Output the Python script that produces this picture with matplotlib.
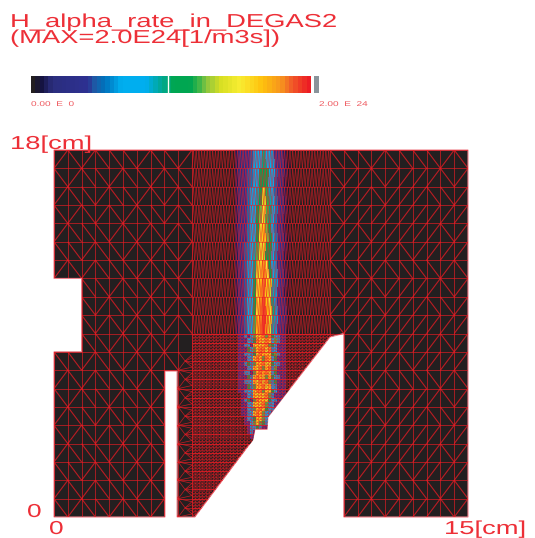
import matplotlib
matplotlib.use("Agg")
import matplotlib.pyplot as plt
import numpy as np
from matplotlib.collections import LineCollection
from matplotlib.colors import LinearSegmentedColormap
from matplotlib.patches import Polygon
from matplotlib.patheffects import AbstractPathEffect
from matplotlib.transforms import Affine2D

W, H = 535, 538
RED = "#ed2f37"

# domain outline, cm
outline_x = [0, 15, 15, 10.5, 10.5, 10.0, 7.75, 7.72, 7.28, 7.2, 5.1, 4.46, 4.46, 4.02, 4.02, 0, 0, 1, 1, 0]
outline_y = [18, 18, 0, 0, 9.0, 8.83, 4.9, 4.3, 4.3, 3.78, 0, 0, 7.16, 7.16, 0, 0, 8.1, 8.1, 11.7, 11.7]

# colour scale
bar_pos = [0, .03, .07, .2, .225, .26, .32, .41, .46, .51, .57, .6, .63, .68, .75, .83, .9, .94, 1]
bar_col = ["#231f20", "#14123f", "#2b2e7e", "#2e3192", "#1c5ea8", "#0072bc", "#00aeef", "#00aeef", "#00a99d",
           "#00a651", "#00a651", "#39b54a", "#8dc63f", "#d7df23", "#f9ed32", "#ffc20e", "#f7941e", "#f15a29", "#ed1c24"]

# upper channel rate, percent of max, rows from top
upper_rate = [
    [5, 8, 12, 15, 18, 22, 32, 40, 42, 48, 42, 40, 30, 20, 15, 10, 6, 3],
    [5, 8, 12, 18, 22, 28, 38, 42, 50, 55, 50, 42, 34, 22, 15, 10, 6, 3],
    [5, 8, 14, 18, 25, 32, 40, 45, 55, 68, 58, 45, 38, 25, 15, 10, 6, 3],
    [5, 10, 14, 20, 25, 35, 42, 50, 62, 72, 60, 48, 40, 28, 18, 10, 6, 3],
    [6, 10, 15, 20, 28, 35, 42, 55, 72, 80, 62, 50, 42, 28, 18, 10, 6, 3],
    [6, 10, 15, 22, 28, 38, 45, 60, 72, 70, 55, 52, 40, 28, 18, 12, 6, 3],
    [6, 10, 15, 22, 30, 38, 48, 68, 78, 88, 74, 55, 42, 30, 18, 12, 6, 3],
    [6, 12, 16, 22, 30, 40, 52, 72, 82, 92, 80, 68, 45, 30, 20, 12, 6, 3],
    [6, 12, 16, 24, 32, 40, 55, 75, 88, 95, 82, 72, 48, 30, 20, 12, 7, 3],
    [6, 12, 18, 24, 32, 42, 60, 82, 90, 96, 88, 70, 45, 30, 20, 12, 7, 3],
]

# lower fine region, tenths of max, rows from top
lower_rate = [
    "012324678969543210", "012243598798463210", "021342787896542110", "012254689979342210",
    "011343579887563210", "021244798698452110", "012353688977543210", "011244879689362110",
    "012342689897452110", "021253798768543110", "012344879796352110", "011253688978431110",
    "012344799687542110", "001243878796322110", "002352698875431110", "001244787963421110",
    "002143689754321110", "001234798643211110", "000243587642111110", "000124676531111110",
    "000023453211111110", "000013231111111110", "000002111111111110", "000000010000000000",
]

# diagonal direction per coarse cell, f = /, b = \
left_diag = ["fbfbbbfbbf", "bfbbfbbfbb", "fbbfbbfbfb", "bfbfbfbbfb", "fbbbfbfbfb", "bbfbbfbfbf"]
right_diag = ["bbbfbbbbfb", "bffbffffbf", "fffbfffbbf", "bfffffffff", "ffbfffffbf", "fffffbffff"]


class Stretch(AbstractPathEffect):
    # the original fonts are stretched wide
    def __init__(self, sx):
        super().__init__()
        self.sx = sx

    def draw_path(self, renderer, gc, tpath, affine, rgbFace=None):
        renderer.draw_path(gc, tpath, Affine2D().scale(self.sx, 1) + affine, rgbFace)


def px_text(x, y, s, size, sx, color=RED):
    fig.text(x / W, 1 - y / H, s, fontsize=size, color=color, family="Liberation Sans",
             ha="left", va="baseline", path_effects=[Stretch(sx)])


cmap = LinearSegmentedColormap.from_list("rate", list(zip(bar_pos, bar_col)), N=64)

fig = plt.figure(figsize=(W / 100, H / 100), dpi=100)
ax = fig.add_axes([54 / W, 1 - 517 / H, 414 / W, 367 / H])
ax.set_xlim(0, 15)
ax.set_ylim(0, 18)
ax.axis("off")

poly = Polygon(list(zip(outline_x, outline_y)), closed=True, facecolor="#231f20",
               edgecolor="#f0808a", lw=0.8, zorder=1, clip_on=False)
ax.add_patch(poly)

# upper channel
up = np.array(upper_rate) / 100
ye = 18 - 0.9 * np.arange(up.shape[0] + 1)
xe = 6.55 + 0.11 * np.arange(up.shape[1] + 1)
X, Y = np.meshgrid(xe, ye)
X[1::2] += 0.05
ax.pcolormesh(X, Y, up, cmap=cmap, vmin=0, vmax=1, zorder=2).set_clip_path(poly)

# lower fine region
low = np.array([[int(c) / 10 for c in row] for row in lower_rate])
ye = 9.0 - 0.225 * np.arange(low.shape[0] + 1)
xe = 6.55 + 0.11 * np.arange(low.shape[1] + 1)
ax.pcolormesh(xe, ye, low, cmap=cmap, vmin=0, vmax=1, zorder=2).set_clip_path(poly)

# coarse mesh
coarse = []
for k in range(21):
    y = k * 0.9
    coarse.append([(0, y), (5, y)])
    coarse.append([(10, y), (15, y)])
for i in range(11):
    coarse.append([(i * 0.5, 0), (i * 0.5, 18)])
    coarse.append([(10 + i * 0.5, 0), (10 + i * 0.5, 18)])
diag = []
for r in range(20):
    y1 = 18 - r * 0.9
    y0 = y1 - 0.9
    for i in range(10):
        for x0, tile in ((i * 0.5, left_diag), (10 + i * 0.5, right_diag)):
            if 4.5 <= x0 < 5 and y1 <= 9:
                continue
            if tile[r % len(tile)][i] == "f":
                diag.append([(x0, y0), (x0 + 0.5, y1)])
            else:
                diag.append([(x0, y1), (x0 + 0.5, y0)])

# upper fine mesh, zigzag columns
fine_up = []
for k in range(10):
    y0 = 9 + k * 0.9
    fine_up.append([(5, y0), (10, y0)])
    for x in np.arange(5, 10, 0.1):
        fine_up.append([(x, y0), (x + 0.05, y0 + 0.9)])
        fine_up.append([(x + 0.1, y0), (x + 0.05, y0 + 0.9)])
fine_up.append([(5, 18), (10, 18)])

# lower fine mesh
fine_low = []
for x in np.arange(5, 10.01, 0.125):
    fine_low.append([(x, 0), (x, 9)])
    for y in np.arange(0, 9, 0.15):
        fine_low.append([(x, y), (x + 0.125, y + 0.15)])
        fine_low.append([(x, y + 0.15), (x + 0.125, y)])
for y in np.arange(0, 9.01, 0.15):
    fine_low.append([(5, y), (10, y)])
strong_low = [[(5, y), (10, y)] for y in np.arange(0, 9.01, 0.45)]

# fan joining coarse and fine parts
fan = []
for k in range(9):
    y = k * 0.9
    mid = (4.75, y + 0.45)
    fan.append([(4.5, y), mid])
    fan.append([(4.5, y + 0.9), mid])
    for d in (0.15, 0.3, 0.45, 0.6, 0.75):
        fan.append([mid, (5, y + d)])
    for d in (-0.15, 0.15):
        fan.append([(4.5, y), (5, y + d)])

for segs, lw, alpha in ((coarse, 0.6, 0.75), (diag, 0.8, 0.75), (fine_up, 0.55, 0.65),
                        (fine_low, 0.4, 0.6), (strong_low, 0.6, 0.8), (fan, 0.5, 0.8)):
    lc = LineCollection(segs, colors="#ed1c24", linewidths=lw, alpha=alpha, zorder=3)
    ax.add_collection(lc)
    lc.set_clip_path(poly)

# colour bar
cax = fig.add_axes([31 / W, 1 - 93 / H, 279 / W, 17 / H])
cax.imshow(np.linspace(0, 1, 64)[None, :], cmap=cmap, aspect="auto", extent=(0, 1, 0, 1), interpolation="nearest")
cax.axvline(0.49, color="white", lw=1)
cax.axis("off")
gax = fig.add_axes([314 / W, 1 - 93 / H, 5 / W, 17 / H])
gax.set_facecolor("#8a949b")
gax.set_xticks([])
gax.set_yticks([])
for s in gax.spines.values():
    s.set_visible(False)

px_text(10, 27, "H_alpha_rate_in_DEGAS2", 13.5, 1.46)
px_text(10, 43, "(MAX=2.0E24[1/m3s])", 13.5, 1.46)
px_text(31, 106, "0.00  E  0", 5, 1.45, "#ef5a60")
px_text(319, 106, "2.00  E  24", 5, 1.45, "#ef5a60")
px_text(10, 149, "18[cm]", 13.5, 1.46)
px_text(27, 517, "0", 13.5, 1.4)
px_text(49, 534, "0", 13.5, 1.4)
px_text(444, 534, "15[cm]", 13.5, 1.46)

fig.savefig("out.png", dpi=100)
